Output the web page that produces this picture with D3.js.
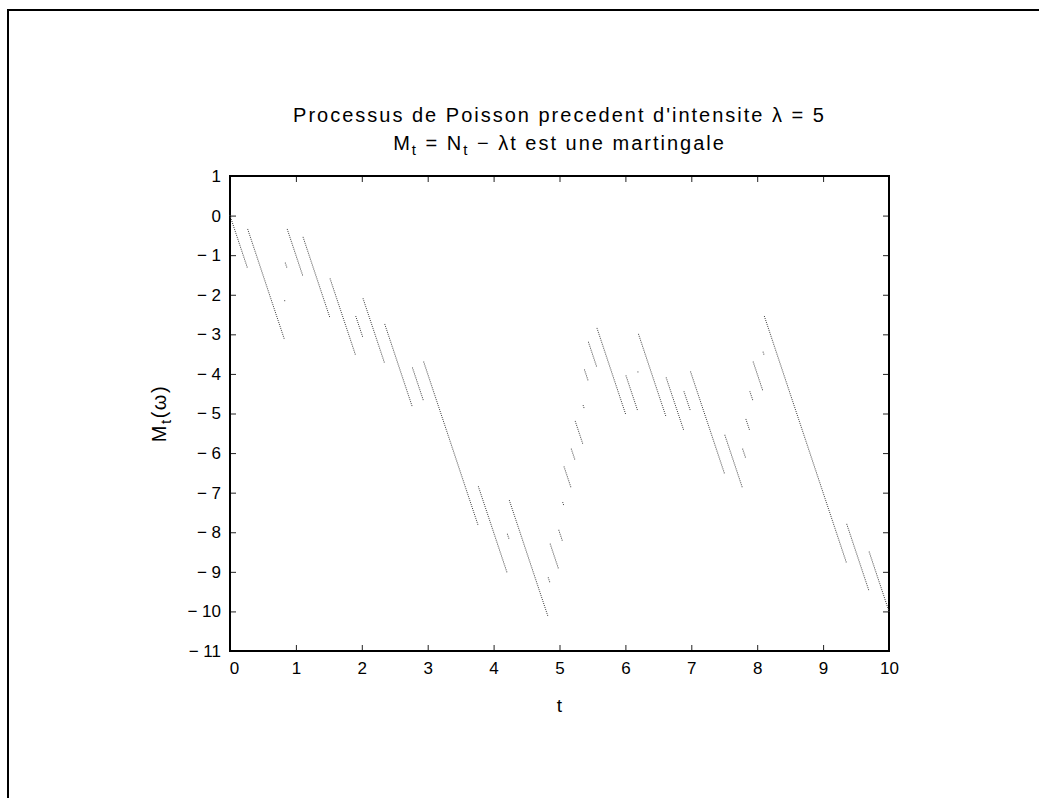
<!DOCTYPE html>
<html>
<head>
<meta charset="utf-8">
<script src="https://cdn.jsdelivr.net/npm/d3@7"></script>
<style>
	body { margin: 0; background: #fff; }
	svg text { font-family: "Liberation Sans", Arial, sans-serif; fill: #000; }
</style>
</head>
<body>
<div id="chart"></div>
<script>

// jump times of N_t (one entry per event)
const jumpTimes = [
	0.270, 0.822, 0.835, 0.865, 1.110, 1.513, 1.906, 2.017, 2.350, 2.768,
	2.940, 3.768, 4.207, 4.235, 4.829, 4.857, 4.988, 5.046, 5.066, 5.177,
	5.231, 5.352, 5.372, 5.440, 5.568, 6.003, 6.188, 6.198, 6.612, 6.890,
	6.990, 7.507, 7.778, 7.830, 7.890, 7.935, 8.088, 8.105, 9.358, 9.698
];

// intensity and sampling of the time axis
const lambda = 5;
const tMin = 0;
const tMax = 10;
const nSamples = 1000;

// axes
const xTicks = d3.range(0, 11);
const yTicks = d3.range(-11, 2);
const yDomain = [-11, 1];

const titleLine1 = "Processus de Poisson precedent d'intensite \u03bb = 5";
const xLabel = "t";


class MartingaleVis {

	constructor(parentElement) {
		this.parentElement = parentElement;
		this.initVis();
	}

	initVis() {
		let vis = this;

		vis.fullWidth = 1039;
		vis.fullHeight = 798;
		vis.margin = {top: 176, right: 150, bottom: 147, left: 230};
		vis.width = vis.fullWidth - vis.margin.left - vis.margin.right;
		vis.height = vis.fullHeight - vis.margin.top - vis.margin.bottom;

		vis.root = d3.select("#" + vis.parentElement).append("svg")
			.attr("width", vis.fullWidth)
			.attr("height", vis.fullHeight);

		// window border (only top and left edges show)
		vis.root.append("path")
			.attr("d", `M8,${vis.fullHeight} V10 H${vis.fullWidth}`)
			.attr("fill", "none")
			.attr("stroke", "#000")
			.attr("stroke-width", 2);

		vis.svg = vis.root.append("g")
			.attr("transform", `translate(${vis.margin.left}, ${vis.margin.top})`);

		vis.x = d3.scaleLinear().domain([tMin, tMax]).range([0, vis.width]);
		vis.y = d3.scaleLinear().domain(yDomain).range([vis.height, 0]);

		vis.wrangleData();
	}

	wrangleData() {
		let vis = this;

		// M_t = N_t - lambda t on the sampling grid
		vis.points = d3.range(nSamples + 1).map(i => {
			let t = tMin + (tMax - tMin) * i / nSamples;
			let n = d3.bisectRight(jumpTimes, t);
			return {t: t, m: n - lambda * t};
		});

		vis.updateVis();
	}

	updateVis() {
		let vis = this;
		let tickLen = 6;
		let minus = d => d < 0 ? "\u2212 " + Math.abs(d) : String(d);

		// axes, ticks pointing inwards on all sides
		let axes = [
			{axis: d3.axisBottom(vis.x).tickValues(xTicks).tickFormat(d3.format("d")).tickPadding(11), tr: `translate(0, ${vis.height})`},
			{axis: d3.axisTop(vis.x).tickValues(xTicks).tickFormat(""), tr: "translate(0, 0)"},
			{axis: d3.axisLeft(vis.y).tickValues(yTicks).tickFormat(minus).tickPadding(9), tr: "translate(0, 0)"},
			{axis: d3.axisRight(vis.y).tickValues(yTicks).tickFormat(""), tr: `translate(${vis.width}, 0)`}
		];

		axes.forEach((a, i) => {
			let g = vis.svg.append("g")
				.attr("transform", a.tr)
				.call(a.axis.tickSizeInner(-tickLen).tickSizeOuter(0));
			g.select(".domain").remove();
			g.selectAll(".tick line").attr("stroke", "#222");
			g.selectAll(".tick text")
				.style("font-size", "17px")
				.style("font-family", "'Liberation Sans', Arial, sans-serif")
				.attr("fill", "#000");
			// first x label sits a little right of the corner
			if (i === 0) g.selectAll(".tick text").filter(d => d === 0).attr("dx", 4);
		});

		// frame
		vis.svg.append("rect")
			.attr("x", 0)
			.attr("y", 0)
			.attr("width", vis.width)
			.attr("height", vis.height)
			.attr("fill", "none")
			.attr("stroke", "#000")
			.attr("stroke-width", 2);

		// sampled points of the process
		vis.svg.append("g")
			.selectAll("rect.pt")
			.data(vis.points)
			.enter()
			.append("rect")
			.attr("class", "pt")
			.attr("x", d => vis.x(d.t) - 0.5)
			.attr("y", d => vis.y(d.m) - 0.5)
			.attr("width", 1)
			.attr("height", 1)
			.attr("fill", "#444");

		// title
		let cx = vis.width / 2;
		vis.svg.append("text")
			.attr("x", cx)
			.attr("y", -54)
			.attr("text-anchor", "middle")
			.style("font-size", "20px")
			.style("letter-spacing", "2px")
			.text(titleLine1);

		let t2 = vis.svg.append("text")
			.attr("x", cx)
			.attr("y", -26)
			.attr("text-anchor", "middle")
			.style("font-size", "20px")
			.style("letter-spacing", "2px");
		t2.append("tspan").text("M");
		t2.append("tspan").attr("dy", 5).style("font-size", "15px").text("t");
		t2.append("tspan").attr("dy", -5).text(" = N");
		t2.append("tspan").attr("dy", 5).style("font-size", "15px").text("t");
		t2.append("tspan").attr("dy", -5).text(" \u2212 \u03bbt est une martingale");

		// axis labels
		vis.svg.append("text")
			.attr("x", cx)
			.attr("y", vis.height + 61)
			.attr("text-anchor", "middle")
			.style("font-size", "19px")
			.text(xLabel);

		let yl = vis.svg.append("text")
			.attr("transform", `translate(-64, ${vis.height / 2}) rotate(-90)`)
			.attr("text-anchor", "middle")
			.style("font-size", "20px")
			.style("letter-spacing", "1.5px");
		yl.append("tspan").text("M");
		yl.append("tspan").attr("dy", 5).style("font-size", "15px").text("t");
		yl.append("tspan").attr("dy", -5).text("(\u03c9)");
	}
}

new MartingaleVis("chart");

</script>
</body>
</html>
